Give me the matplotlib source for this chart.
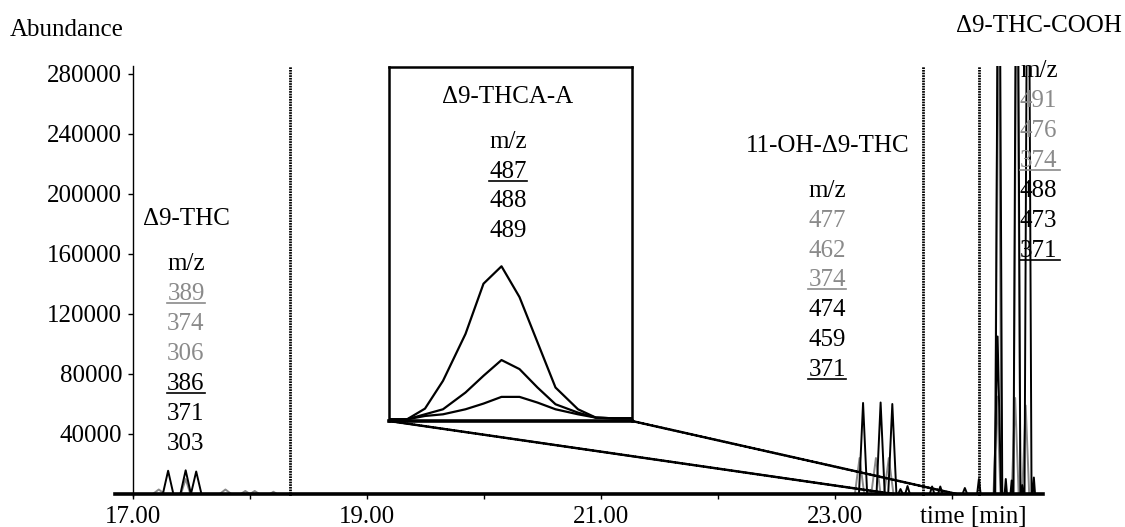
import matplotlib
matplotlib.use('Agg')
import matplotlib.pyplot as plt
from matplotlib.patches import ConnectionPatch
from matplotlib.lines import Line2D

plt.rcParams['font.family'] = ['Liberation Serif', 'DejaVu Serif']
plt.rcParams['font.size'] = 18

# ---------------- data ----------------
GREY = '#8a8a8a'

# grey ion traces (time [min], abundance)
grey_a_t = [16.85, 17.17, 17.22, 17.27, 17.74, 17.79, 17.84, 23.17, 23.21, 23.25, 24.355, 24.385, 24.415, 24.78]
grey_a_y = [0, 0, 3000, 0, 0, 3000, 0, 0, 24000, 0, 0, 65000, 0, 0]
grey_b_t = [16.85, 17.41, 17.45, 17.49, 17.92, 17.96, 18.00, 23.31, 23.35, 23.39, 24.365, 24.395, 24.425, 24.51, 24.54, 24.57, 24.78]
grey_b_y = [0, 0, 10000, 0, 0, 2000, 0, 0, 24000, 0, 0, 350000, 0, 0, 64000, 0, 0]
grey_c_t = [16.85, 18.00, 18.04, 18.08, 18.17, 18.20, 18.23, 23.42, 23.46, 23.50, 24.525, 24.555, 24.585, 24.60, 24.63, 24.66, 24.78]
grey_c_y = [0, 0, 2000, 0, 0, 1500, 0, 0, 24000, 0, 0, 400000, 0, 0, 59000, 0, 0]

# black ion traces
black_a_t = [16.85, 17.255, 17.30, 17.345, 23.205, 23.24, 23.275, 24.37, 24.40, 24.43, 24.45, 24.46, 24.47, 24.78]
black_a_y = [0, 0, 15500, 0, 0, 60700, 0, 0, 500000, 0, 0, 10000, 0, 0]
black_b_t = [16.85, 17.405, 17.45, 17.495, 23.355, 23.39, 23.425, 23.54, 23.56, 23.58, 23.81, 23.83, 23.85,
             24.525, 24.555, 24.585, 24.50, 24.51, 24.52, 24.78]
black_b_y = [0, 0, 15800, 0, 0, 61000, 0, 0, 3300, 0, 0, 5000, 0, 0, 500000, 0, 0, 9000, 0, 0]
black_c_t = [16.85, 17.495, 17.54, 17.585, 23.455, 23.49, 23.525, 23.60, 23.62, 23.64, 23.88, 23.90, 23.92,
             24.09, 24.11, 24.13, 24.215, 24.23, 24.245, 24.59, 24.60, 24.61, 24.62, 24.65, 24.68,
             24.69, 24.70, 24.71, 24.78]
black_c_y = [0, 0, 15000, 0, 0, 60000, 0, 0, 5300, 0, 0, 5000, 0, 0, 4000, 0, 0, 10000, 0, 0, 6000, 0,
             0, 500000, 0, 0, 11000, 0, 0]
black_d_t = [16.85, 24.36, 24.39, 24.42, 24.78]
black_d_y = [0, 0, 105000, 0, 0]

# segment markers (dotted verticals)
window_lines = [18.34, 23.75, 24.23]

# inset: delta9-THCA-A, m/z 487 / 488 / 489
inset_t = [23.50, 23.54, 23.58, 23.62, 23.67, 23.71, 23.75, 23.79, 23.83, 23.87, 23.92, 23.96, 24.00, 24.04]
inset_487 = [0, 0, 3200, 11500, 25500, 40500, 45700, 36500, 23000, 9500, 3000, 500, 300, 300]
inset_488 = [0, 0, 1500, 3000, 8000, 13000, 17700, 15000, 9500, 4500, 2000, 500, 300, 300]
inset_489 = [0, 0, 1000, 1500, 3000, 4700, 6700, 6700, 5000, 3000, 1500, 500, 300, 300]

x_ticks = [17, 18, 19, 20, 21, 22, 23, 24]
x_tick_labels = ['17.00', '', '19.00', '', '21.00', '', '23.00', '']
y_ticks = [40000, 80000, 120000, 160000, 200000, 240000, 280000]
y_tick_labels = ['40000', '80000', '120000', '160000', '200000', '240000', '280000']

# ---------------- figure ----------------
W, H = 1125, 527
fig = plt.figure(figsize=(W / 100, H / 100), dpi=100)
ax = fig.add_axes([115 / W, 1 - 496.25 / H, (1043 - 115) / W, (496.25 - 66) / H])
ax.set_xlim(16.846, 24.778)
ax.set_ylim(-1500, 285300)

for t, y in [(grey_a_t, grey_a_y), (grey_b_t, grey_b_y), (grey_c_t, grey_c_y)]:
    order = sorted(range(len(t)), key=lambda i: t[i])
    ax.plot([t[i] for i in order], [y[i] for i in order], color=GREY, lw=1.4, zorder=2)
for t, y in [(black_a_t, black_a_y), (black_b_t, black_b_y), (black_c_t, black_c_y), (black_d_t, black_d_y)]:
    order = sorted(range(len(t)), key=lambda i: t[i])
    ax.plot([t[i] for i in order], [y[i] for i in order], color='black', lw=1.4, zorder=3)

for xv in window_lines:
    ax.axvline(xv, color='black', lw=2.0, ls=(0, (0.6, 0.35)), zorder=1)

ax.spines['top'].set_visible(False)
ax.spines['right'].set_visible(False)
ax.spines['left'].set_position(('data', 17.0))
ax.spines['bottom'].set_position(('data', 0))
ax.spines['left'].set_linewidth(1.0)
ax.spines['bottom'].set_linewidth(2.6)
ax.set_xticks(x_ticks)
ax.set_xticklabels(x_tick_labels)
ax.set_yticks(y_ticks)
ax.set_yticklabels(y_tick_labels)
ax.tick_params(axis='x', direction='out', length=3.6, width=1.0, pad=5.0)
ax.tick_params(axis='y', direction='out', length=3.6, width=1.0, pad=4.3)
ax.patch.set_visible(False)

# inset
axin = fig.add_axes([389 / W, 1 - 421 / H, (632 - 389) / W, (421 - 67) / H])
for yy in (inset_487, inset_488, inset_489):
    axin.plot(inset_t, yy, color='black', lw=1.6)
axin.set_xlim(inset_t[0], inset_t[-1])
axin.set_ylim(-500, 105200)
axin.set_xticks([])
axin.set_yticks([])
for s in axin.spines.values():
    s.set_linewidth(1.8)
axin.spines['bottom'].set_linewidth(2.6)

for xa, xb in [(0, inset_t[0]), (1, inset_t[-1])]:
    con = ConnectionPatch(xyA=(xa, 0), coordsA=axin.transAxes, xyB=(xb, 0), coordsB=ax.transData,
                          color='black', lw=1.8, ls=(0, (0.6, 0.35)), zorder=5)
    fig.add_artist(con)

# ---------------- texts ----------------
under = []


def ftext(x, yb, s, color='black', ha='center', ul=False, ul_ext=0):
    t = fig.text(x / W, 1 - yb / H, s, color=color, ha=ha, va='baseline')
    if ul:
        under.append((t, yb, color, ul_ext))
    return t


ftext(10, 36, 'Abundance', ha='left')
ftext(1039, 32, 'Δ9-THC-COOH')
ftext(973, 523, 'time [min]')

# delta9-THC
ftext(186, 225, 'Δ9-THC')
left_col = [('m/z', 'black', False), ('389', GREY, True), ('374', GREY, False), ('306', GREY, False),
            ('386', 'black', True), ('371', 'black', False), ('303', 'black', False)]
for i, (s, c, u) in enumerate(left_col):
    ftext(186, 270 + 30 * i, s, color=c, ul=u)

# inset labels
ftext(508, 103, 'Δ9-THCA-A')
inset_col = [('m/z', False), ('487', True), ('488', False), ('489', False)]
for i, (s, u) in enumerate(inset_col):
    ftext(508, 148 + 30 * i - (1 if i > 1 else 0), s, ul=u)

# 11-OH
ftext(828, 152, '11-OH-Δ9-THC')
oh_col = [('m/z', 'black', False), ('477', GREY, False), ('462', GREY, False), ('374', GREY, True),
          ('474', 'black', False), ('459', 'black', False), ('371', 'black', True)]
for i, (s, c, u) in enumerate(oh_col):
    ftext(827, 197 + 29.8 * i, s, color=c, ul=u)

# COOH column
cooh_col = [('m/z', 'black', False), ('491', GREY, False), ('476', GREY, False), ('374', GREY, True),
            ('488', 'black', False), ('473', 'black', False), ('371', 'black', True)]
for i, (s, c, u) in enumerate(cooh_col):
    ftext(1020, 77 + 30 * i, s, color=c, ha='left', ul=u, ul_ext=2)

fig.canvas.draw()
renderer = fig.canvas.get_renderer()
for t, yb, c, ext in under:
    bb = t.get_window_extent(renderer)
    ydisp = (H - yb - 3) / H
    fig.add_artist(Line2D([bb.x0 / W, (bb.x1 + ext) / W], [ydisp, ydisp],
                          transform=fig.transFigure, color=c, lw=1.2))

fig.savefig('out.png', dpi=100)
